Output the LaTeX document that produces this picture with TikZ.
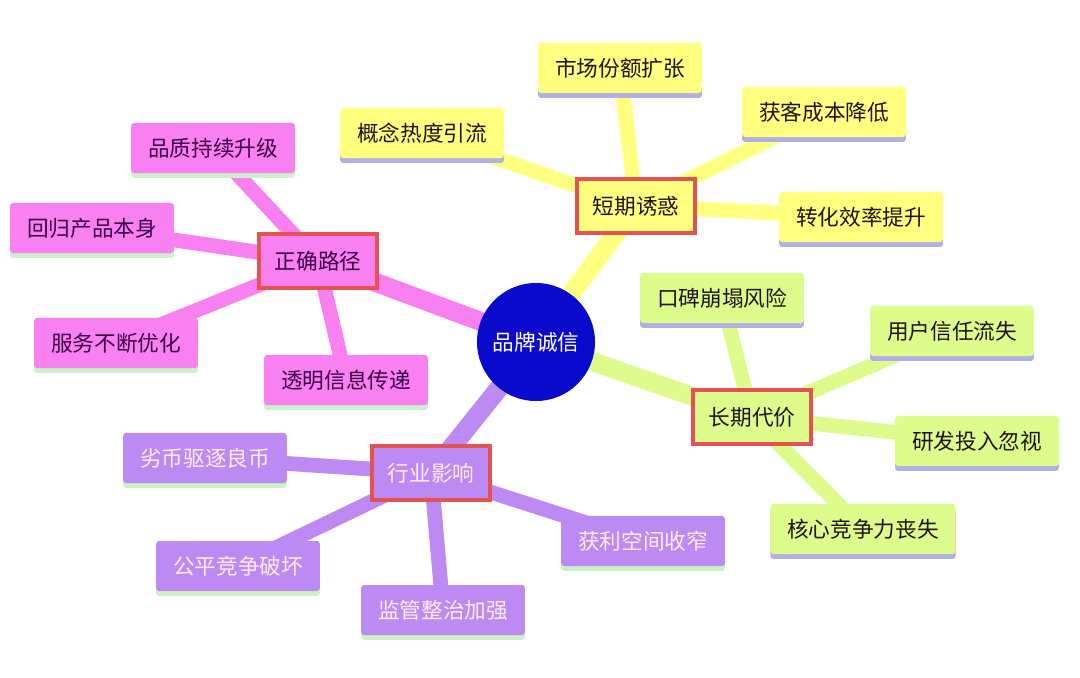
\documentclass[tikz,border=0pt]{standalone}
\usepackage{fontspec}
\newfontfamily\cjk{Noto Sans CJK SC}
\usetikzlibrary{backgrounds,shadows}

\definecolor{hubblue}{RGB}{10,10,205}
\definecolor{redline}{RGB}{228,82,82}
\definecolor{ylwfill}{RGB}{255,255,128}
\definecolor{grnfill}{RGB}{222,252,140}
\definecolor{pnkfill}{RGB}{248,128,240}
\definecolor{prpfill}{RGB}{188,138,242}
\definecolor{barlav}{RGB}{176,176,228}
\definecolor{bargrn}{RGB}{204,240,200}
\definecolor{darktext}{RGB}{30,20,20}
\definecolor{pnktext}{RGB}{60,0,70}
\definecolor{prptext}{RGB}{255,236,248}

\begin{document}
\begin{tikzpicture}[x=0.025cm,y=-0.025cm,
    font=\cjk\fontsize{15.4}{18}\selectfont,
    hub/.style={circle,fill=hubblue,minimum size=2.95cm,inner sep=0pt,text=white},
    branch/.style={draw=redline,line width=2.2pt,minimum width=2.95cm,minimum height=1.35cm,inner sep=0pt},
    leaf/.style={rounded corners=2pt,minimum height=1.25cm,inner xsep=0.42cm,inner ysep=0pt,
                 general shadow={fill=#1,shadow yshift=-3.5pt}},
    trunk/.style={line width=13.5pt,draw=#1},
    twig/.style={line width=10.5pt,draw=#1}]
    \useasboundingbox (0,0) rectangle (1080,678);

    % Centre
    \node[hub] (hub) at (536,342) {品牌诚信};

    % Branches
    \node[branch,fill=ylwfill,text=darktext] (short) at (636,206) {短期诱惑};
    \node[branch,fill=grnfill,text=darktext] (long) at (752,417) {长期代价};
    \node[branch,fill=prpfill,text=prptext] (trade) at (431,473) {行业影响};
    \node[branch,fill=pnkfill,text=pnktext] (path) at (318,261) {正确路径};

    % Leaves of short
    \node[leaf=barlav,fill=ylwfill,text=darktext] (s1) at (620,68) {市场份额扩张};
    \node[leaf=barlav,fill=ylwfill,text=darktext] (s2) at (824,112) {获客成本降低};
    \node[leaf=barlav,fill=ylwfill,text=darktext] (s3) at (422,133) {概念热度引流};
    \node[leaf=barlav,fill=ylwfill,text=darktext] (s4) at (861,217) {转化效率提升};

    % Leaves of long
    \node[leaf=barlav,fill=grnfill,text=darktext] (l1) at (722,298) {口碑崩塌风险};
    \node[leaf=barlav,fill=grnfill,text=darktext] (l2) at (952,331) {用户信任流失};
    \node[leaf=barlav,fill=grnfill,text=darktext] (l3) at (977,441) {研发投入忽视};
    \node[leaf=barlav,fill=grnfill,text=darktext] (l4) at (863,529) {核心竞争力丧失};

    % Leaves of trade
    \node[leaf=bargrn,fill=prpfill,text=prptext] (t1) at (205,458) {劣币驱逐良币};
    \node[leaf=bargrn,fill=prpfill,text=prptext] (t2) at (238,566) {公平竞争破坏};
    \node[leaf=bargrn,fill=prpfill,text=prptext] (t3) at (443,610) {监管整治加强};
    \node[leaf=bargrn,fill=prpfill,text=prptext] (t4) at (643,541) {获利空间收窄};

    % Leaves of path
    \node[leaf=bargrn,fill=pnkfill,text=pnktext] (p1) at (213,148) {品质持续升级};
    \node[leaf=bargrn,fill=pnkfill,text=pnktext] (p2) at (92,228) {回归产品本身};
    \node[leaf=bargrn,fill=pnkfill,text=pnktext] (p3) at (116,343) {服务不断优化};
    \node[leaf=bargrn,fill=pnkfill,text=pnktext] (p4) at (346,380) {透明信息传递};

    % Connectors behind the boxes
    \begin{scope}[on background layer]
        \fill[white] (0,0) rectangle (1080,678);
        \draw[trunk=ylwfill] (hub.center) -- (short.center);
        \draw[trunk=grnfill] (hub.center) -- (long.center);
        \draw[trunk=prpfill] (hub.center) -- (trade.center);
        \draw[trunk=pnkfill] (hub.center) -- (path.center);
        \foreach \leafname in {s1,s2,s3,s4}
            \draw[twig=ylwfill] (short.center) -- (\leafname.center);
        \foreach \leafname in {l1,l2,l3,l4}
            \draw[twig=grnfill] (long.center) -- (\leafname.center);
        \foreach \leafname in {t1,t2,t3,t4}
            \draw[twig=prpfill] (trade.center) -- (\leafname.center);
        \foreach \leafname in {p1,p2,p3,p4}
            \draw[twig=pnkfill] (path.center) -- (\leafname.center);
    \end{scope}
\end{tikzpicture}
\end{document}
